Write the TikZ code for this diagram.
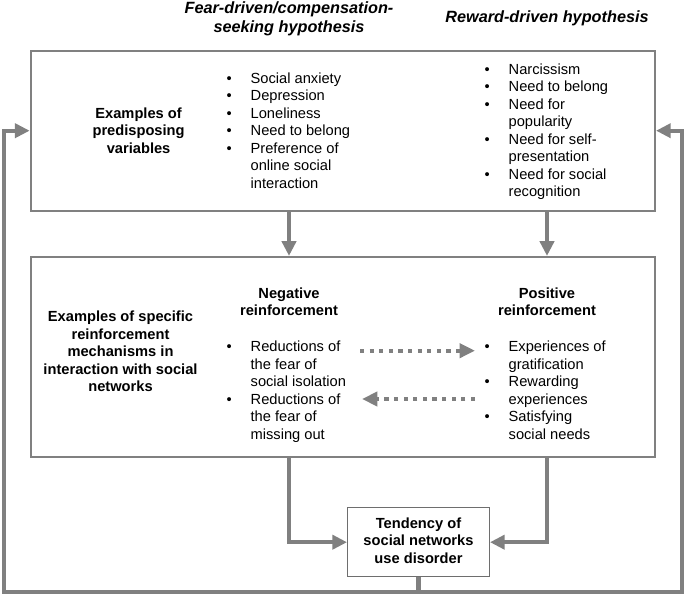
\documentclass[tikz,border=0pt]{standalone}
\usepackage{fontspec}
\setmainfont{Liberation Sans}
\usetikzlibrary{arrows.meta,positioning}

\definecolor{linegray}{RGB}{128,128,128}
\definecolor{tendgray}{RGB}{110,110,110}
\newcommand{\bodysize}{\fontsize{11}{13.1}\selectfont}
\newcommand{\headsize}{\fontsize{12.2}{14.5}\selectfont}

\tikzset{
    box/.style={draw=linegray, line width=1.6pt, inner sep=0pt},
    txt/.style={inner sep=0pt, font=\bodysize},
    head/.style={inner sep=0pt, font=\headsize\bfseries\itshape, anchor=base},
    conn/.style={draw=linegray, line width=3.2pt, miter limit=4,
        -{Triangle[length=11pt, width=10.5pt]}},
    dots/.style={draw=linegray, line width=3pt, dash pattern=on 3.2pt off 4pt,
        -{Triangle[length=11.5pt, width=10.5pt]}}
}

\begin{document}
\begin{tikzpicture}[x=0.75pt, y=-0.75pt]
    \useasboundingbox (0,0) rectangle (685,595);

    % hypotheses
    \node[head] (fear) at (289,13.1) {\begin{tabular}[t]{@{}c@{}}Fear-driven/compensation-\\seeking hypothesis\end{tabular}};
    \node[head] (reward) at (547,22.5) {Reward-driven hypothesis};

    % boxes
    \node[box, minimum width=468.2pt, minimum height=120pt] (topbox) at (342.85,130.7) {};
    \node[box, minimum width=468.2pt, minimum height=149.8pt] (midbox) at (342.85,356.85) {};
    \node[draw=tendgray, line width=1pt, inner sep=0pt, minimum width=106.2pt, minimum height=51.75pt,
        font=\bodysize\bfseries] (tend) at (418.5,542.2)
        {\begin{tabular}{@{}c@{}}Tendency of\\social networks\\use disorder\end{tabular}};

    % predisposing variables
    \node[txt, font=\bodysize\bfseries, anchor=base] (predlabel) at (138.6,118.2)
        {\begin{tabular}[t]{@{}c@{}}Examples of\\predisposing\\variables\end{tabular}};
    \node[txt, anchor=base west] (fearvars) at (226.4,83.5)
        {\begin{tabular}[t]{@{}p{18pt}@{}l@{}}
        • & Social anxiety\\
        • & Depression\\
        • & Loneliness\\
        • & Need to belong\\
        • & Preference of\\
          & online social\\
          & interaction
        \end{tabular}};
    \node[txt, anchor=base west] (rewardvars) at (484.4,74.5)
        {\begin{tabular}[t]{@{}p{18pt}@{}l@{}}
        • & Narcissism\\
        • & Need to belong\\
        • & Need for\\
          & popularity\\
        • & Need for self-\\
          & presentation\\
        • & Need for social\\
          & recognition
        \end{tabular}};

    % reinforcement mechanisms
    \node[txt, font=\bodysize\bfseries, anchor=base] (mechlabel) at (120.5,321.9)
        {\begin{tabular}[t]{@{}c@{}}Examples of specific\\reinforcement\\mechanisms in\\interaction with social\\networks\end{tabular}};
    \node[txt, font=\bodysize\bfseries, anchor=base] (neghead) at (289,298.5)
        {\begin{tabular}[t]{@{}c@{}}Negative\\reinforcement\end{tabular}};
    \node[txt, font=\bodysize\bfseries, anchor=base] (poshead) at (547,298.5)
        {\begin{tabular}[t]{@{}c@{}}Positive\\reinforcement\end{tabular}};
    \node[txt, anchor=base west] (neglist) at (226.4,351.9)
        {\begin{tabular}[t]{@{}p{18pt}@{}l@{}}
        • & Reductions of\\
          & the fear of\\
          & social isolation\\
        • & Reductions of\\
          & the fear of\\
          & missing out
        \end{tabular}};
    \node[txt, anchor=base west] (poslist) at (484.4,351.9)
        {\begin{tabular}[t]{@{}p{18pt}@{}l@{}}
        • & Experiences of\\
          & gratification\\
        • & Rewarding\\
          & experiences\\
        • & Satisfying\\
          & social needs
        \end{tabular}};

    % dotted interplay
    \coordinate (negout) at (360,350.7);
    \coordinate (posin) at (475,350.7);
    \coordinate (posout) at (475,399);
    \coordinate (negin) at (362,399);
    \draw[dots] (negout) -- (posin);
    \draw[dots] (posout) -- (negin);

    % main flow
    \draw[conn] (topbox.south -| fear) -- (midbox.north -| fear);
    \draw[conn] (topbox.south -| reward) -- (midbox.north -| reward);
    \draw[conn] (midbox.south -| fear) |- (tend.west);
    \draw[conn] (midbox.south -| reward) |- (tend.east);

    % feedback loop
    \coordinate (fb) at (418.5,591.7);
    \coordinate (fbl) at (4,130.7);
    \coordinate (fbr) at (682,130.7);
    \draw[conn] (tend.south) -- (fb) -| (fbl) -- (topbox.west);
    \draw[conn] (fb) -| (fbr) -- (topbox.east);
\end{tikzpicture}
\end{document}
